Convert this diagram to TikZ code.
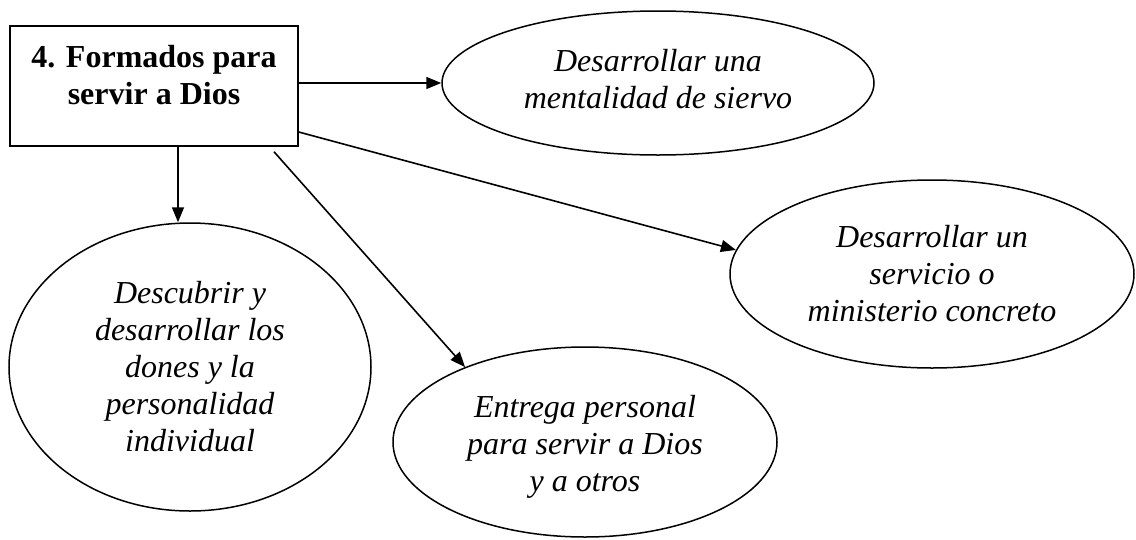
\documentclass[tikz,border=0pt]{standalone}
\usepackage{fontspec}
\setmainfont{Liberation Serif}
\usetikzlibrary{shapes.geometric,arrows.meta}
\tikzset{
  conn/.style={line width=1.6pt,-{Triangle[length=15pt,width=12pt]}},
  oval/.style={draw,ellipse,line width=1.5pt,inner sep=0pt},
  ovaltext/.style={align=center,inner sep=0pt,
    font=\fontsize{32pt}{37pt}\selectfont\itshape},
  titlebox/.style={draw,rectangle,line width=1.5pt,inner sep=0pt},
  titletext/.style={align=center,inner sep=0pt,
    font=\fontsize{32pt}{37pt}\selectfont\bfseries}
}
\begin{document}
\begin{tikzpicture}[x=1pt,y=-1pt]
\useasboundingbox (0,0) rectangle (1136,539);
\node[titlebox,minimum width=288pt,minimum height=120pt] (box) at (154,86) {};
\node[titletext] (boxlabel) at (154,75) {4. Formados para\\servir a Dios};
\node[oval,minimum width=432pt,minimum height=144pt] (e1) at (658,83) {};
\node[ovaltext] (t1) at (658,79) {Desarrollar una\\mentalidad de siervo};
\node[oval,minimum width=404pt,minimum height=188pt] (e2) at (932,274) {};
\node[ovaltext] (t2) at (932,274) {Desarrollar un\\servicio o\\ministerio concreto};
\node[oval,minimum width=362pt,minimum height=288pt] (e3) at (190,367) {};
\node[ovaltext] (t3) at (190,367) {Descubrir y\\desarrollar los\\dones y la\\personalidad\\individual};
\node[oval,minimum width=384pt,minimum height=190pt] (e4) at (585,442) {};
\node[ovaltext] (t4) at (585,447) {Entrega personal\\para servir a Dios\\y a otros};
\draw[conn] ([yshift=3pt]box.east) -- (e1.west);
\draw[conn] ([xshift=24pt]box.south) -- ([xshift=24pt]box.south |- e3.north);
\draw[conn] ([xshift=120pt,yshift=-5pt]box.south) -- (e4.148);
\draw[conn] ([yshift=-46pt]box.east) -- (e2.173);
\end{tikzpicture}
\end{document}
